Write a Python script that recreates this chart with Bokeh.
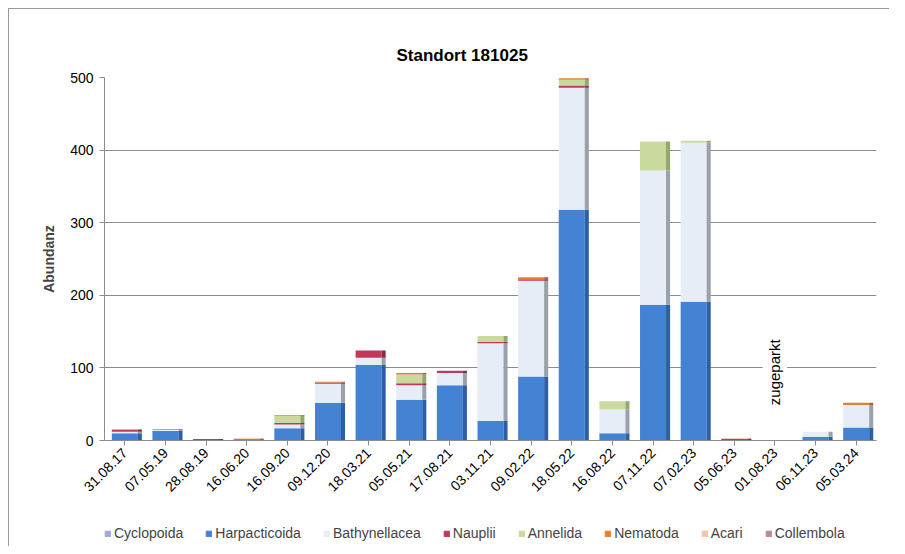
from bokeh.plotting import figure
from bokeh.layouts import column
from bokeh.models import ColumnDataSource, Legend, LegendItem, Range1d, FactorRange, FixedTicker
from bokeh.core.properties import value
from bokeh.transform import dodge
from bokeh.embed import file_html
from bokeh.resources import INLINE
import math

dates = ["31.08.17", "07.05.19", "28.08.19", "16.06.20", "16.09.20", "09.12.20", "18.03.21",
         "05.05.21", "17.08.21", "03.11.21", "09.02.22", "18.05.22", "16.08.22", "07.11.22",
         "07.02.23", "05.06.23", "01.08.23", "06.11.23", "05.03.24"]

groups = ["Cyclopoida", "Harpacticoida", "Bathynellacea", "Nauplii", "Annelida", "Nematoda", "Acari", "Collembola"]

cyclopoida    = [0, 0, 0, 0, 0, 0, 0, 0, 0, 0, 0, 0, 0, 0, 0, 0, 0, 0, 0]
harpacticoida = [10, 13, 0, 0, 17, 52, 104, 56, 76, 27, 88, 318, 10, 187, 191, 0, 0, 5, 18]
bathynellacea = [2, 2, 0, 1, 5, 26, 10, 20, 17, 107, 132, 168, 33, 185, 219, 0, 0, 7, 31]
nauplii       = [3, 1, 2, 1, 2, 2, 10, 3, 3, 2, 2, 3, 0, 0, 0, 2, 0, 0, 0]
annelida      = [1, 0, 0, 0, 10, 0, 0, 12, 0, 8, 0, 8, 11, 40, 3, 0, 0, 0, 0]
nematoda      = [0, 0, 0, 0, 1, 1, 0, 2, 0, 0, 3, 2, 0, 0, 0, 0, 0, 0, 3]
acari         = [0, 0, 0, 1, 0, 0, 0, 0, 0, 0, 0, 0, 0, 0, 0, 1, 0, 0, 0]
collembola    = [0, 0, 0, 0, 0, 0, 0, 0, 0, 0, 0, 0, 0, 0, 0, 0, 0, 0, 0]

y_ticks = [0, 100, 200, 300, 400, 500]
note_text = ["zugeparkt"]
note_date = ["01.08.23"]
note_y = [94]

colors = ["#9fa8d8", "#4482d3", "#e6edf7", "#c0395a", "#c8da9e", "#e3802e", "#f7c3a0", "#b8869e"]
side_colors = ["#7880b0", "#2c5fa6", "#9aa1ab", "#8e2a40", "#93a86a", "#b0601f", "#c89870", "#8e6478"]

data = dict(date=dates, Cyclopoida=cyclopoida, Harpacticoida=harpacticoida,
            Bathynellacea=bathynellacea, Nauplii=nauplii, Annelida=annelida,
            Nematoda=nematoda, Acari=acari, Collembola=collembola)
source = ColumnDataSource(data)

FONT = "Liberation Sans"

p = figure(x_range=FactorRange(*dates), y_range=Range1d(0, 500),
           width=880, height=509, output_backend="svg", toolbar_location=None,
           title="Standort 181025",
           min_border_left=95, min_border_right=13, min_border_top=68, min_border_bottom=78)

p.title.align = "left"
p.title.offset = 292
p.title.text_font = FONT
p.title.text_font_size = "17px"
p.title.text_font_style = "bold"
p.title.text_color = "#000000"
p.title.standoff = 26

renderers = p.vbar_stack(groups, x="date", width=0.64, color=colors, source=source,
                         line_color=None)
p.vbar_stack(groups, x=dodge("date", 0.37, range=p.x_range), width=0.1, color=side_colors,
             source=source, line_color=None)

p.xgrid.grid_line_color = None
p.ygrid.grid_line_color = "#8c8c8c"
p.ygrid.grid_line_width = 1
p.outline_line_color = None

p.yaxis.ticker = FixedTicker(ticks=y_ticks)
p.yaxis.axis_label = "Abundanz"
p.yaxis.axis_label_text_font = FONT
p.yaxis.axis_label_text_font_style = "bold"
p.yaxis.axis_label_text_font_size = "14px"
p.yaxis.axis_label_standoff = 10
p.yaxis.major_label_text_font = FONT
p.yaxis.major_label_text_font_size = "14px"
p.yaxis.major_label_text_color = "#000000"
p.yaxis.major_label_standoff = 6
p.yaxis.axis_line_color = "#8c8c8c"
p.yaxis.major_tick_line_color = "#8c8c8c"
p.yaxis.major_tick_out = 5
p.yaxis.major_tick_in = 0
p.yaxis.minor_tick_line_color = None

p.xaxis.major_label_orientation = math.pi / 4
p.xaxis.major_label_text_font = FONT
p.xaxis.major_label_text_font_size = "14px"
p.xaxis.major_label_text_color = "#000000"
p.xaxis.axis_line_color = "#8c8c8c"
p.xaxis.major_tick_line_color = "#8c8c8c"
p.xaxis.major_tick_out = 5
p.xaxis.major_tick_in = 0
p.x_range.range_padding = 0.0

note_src = ColumnDataSource(dict(x=note_date, y=note_y, t=note_text))
p.rect(x="x", y="y", width=0.6, height=85, source=note_src, fill_color="white", line_color=None)
p.text(x="x", y="y", text="t", angle=math.pi / 2, source=note_src,
       text_align="center", text_baseline="middle",
       text_font=value(FONT), text_font_size="15px", text_color="#000000")

# separate strip below for the legend (proxy renderers lie outside its visible range)
lg = figure(width=880, height=28, output_backend="svg", toolbar_location=None,
            x_range=Range1d(0, 1), y_range=Range1d(0, 1),
            x_axis_location=None, y_axis_location=None,
            min_border=0, min_border_left=0, min_border_right=0, min_border_top=0, min_border_bottom=0)
lg.grid.grid_line_color = None
lg.outline_line_color = None
proxy = ColumnDataSource(dict(x=[-10.0], top=[0.0]))
dummy = [lg.vbar(x="x", top="top", width=0.1, color=c, source=proxy) for c in colors]
legend = Legend(items=[LegendItem(label=g, renderers=[r]) for g, r in zip(groups, dummy)],
                orientation="horizontal", location=(0, 5),
                label_text_font=FONT, label_text_font_size="14px",
                glyph_width=7, glyph_height=7, spacing=22, label_standoff=3,
                border_line_color=None, background_fill_alpha=0, margin=0, padding=2)
lg.add_layout(legend)

layout = column(p, lg, spacing=0,
                styles={"margin-left": "8px", "margin-top": "8px",
                        "border-left": "1px solid #9a9a9a", "border-top": "1px solid #9a9a9a"})

open("out.html", "w").write(file_html(layout, INLINE))
